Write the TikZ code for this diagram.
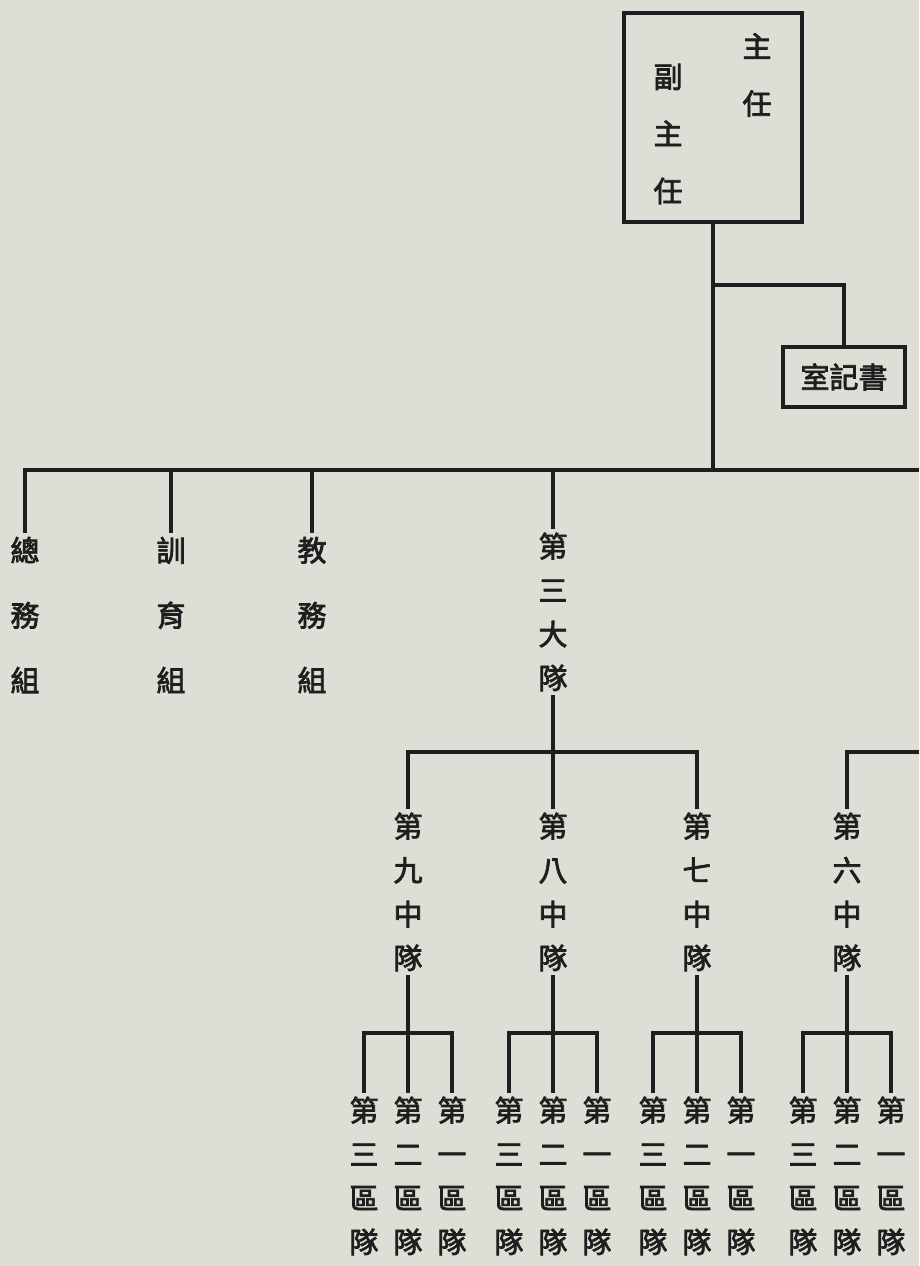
\documentclass[tikz,border=0pt]{standalone}
\usepackage{fontspec}
\newfontfamily\cjk{Noto Sans CJK TC}[FakeBold=2.6]
\definecolor{paper}{RGB}{222,221,214}
\definecolor{ink}{RGB}{30,30,30}
\tikzset{
  line/.style={line width=1.8pt, draw=ink},
  bus/.style={line width=2pt, draw=ink},
  box/.style={line width=2.2pt, draw=ink, inner sep=0pt},
  vtext/.style={font=\cjk\fontsize{16.5}{25}\selectfont, align=center, text=ink, inner xsep=0pt, inner ysep=2pt},
  vwide/.style={vtext, font=\cjk\fontsize{16.5}{37}\selectfont},
  vtop/.style={vtext, font=\cjk\fontsize{16.5}{32.5}\selectfont}
}

\begin{document}
\begin{tikzpicture}[x=0.02cm, y=-0.02cm]
\fill[paper] (0,0) rectangle (919,1266);
\useasboundingbox (0,0) rectangle (919,1266);
% top box
\node[box, minimum width=3.56cm, minimum height=4.18cm] (ZR) at (713,117.5) {};
\node[vtop] at (757,75) {主\\任};
\node[vtop] at (668,134) {副\\主\\任};
\node[box, minimum width=2.44cm, minimum height=1.2cm, font=\cjk\fontsize{16.5}{18}\selectfont, text=ink] (SJ) at (844,377) {室記書};
\coordinate (B) at (713,470);
\coordinate (K) at (713,285);
\coordinate (M) at (553,752);
\draw[line] (ZR.south) -- (B);
\draw[line] (K) -| (SJ.north);
% first row
\node[vwide] (ZW) at (25,615) {總\\務\\組};
\node[vwide] (XY) at (171,615) {訓\\育\\組};
\node[vwide] (JW) at (312,615) {教\\務\\組};
\node[vtext] (D3) at (553,612) {第\\三\\大\\隊};
\draw[bus] (ZW.north) |- (B) -- (919,470);
\draw[line] (XY.north |- B) -- (XY.north);
\draw[line] (JW.north |- B) -- (JW.north);
\draw[line] (D3.north |- B) -- (D3.north);
\draw[line] (D3.south) -- (M);
% second and third rows
\foreach \c/\n/\k in {408/九/9,553/八/8,697/七/7,847/六/6}{
  \node[vtext] (Z\k) at (\c,892) {第\\\n\\中\\隊};
  \coordinate (S\k) at (\c,1033);
  \draw[line] (Z\k.south) -- (S\k);
  \foreach \d/\m/\j in {-44/三/3,0/二/2,44/一/1}
    \node[vtext] (Q\k\j) at (\c+\d,1176) {第\\\m\\區\\隊};
  \draw[line] (Q\k3.north) |- (S\k) -| (Q\k1.north);
  \draw[line] (S\k) -- (Q\k2.north);
}
\draw[line] (Z9.north) |- (M) -| (Z7.north);
\draw[line] (Z8.north) -- (M);
\draw[line] (Z6.north) |- (919,752);
\end{tikzpicture}
\end{document}
